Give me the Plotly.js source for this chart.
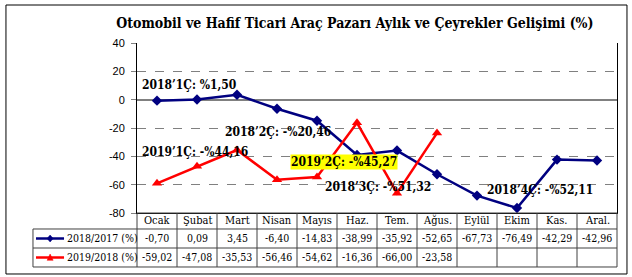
<!DOCTYPE html>
<html><head><meta charset="utf-8">
<script src="https://cdn.plot.ly/plotly-3.0.1.min.js"></script>
<style>body{margin:0;background:#fff}</style>
</head><body><div id="chart" style="width:632px;height:277px"></div>
<script>
const months = ['Ocak','Şubat','Mart','Nisan','Mayıs','Haz.','Tem.','Ağus.','Eylül','Ekim','Kas.','Aral.'];
const series2018 = [-0.70,0.09,3.45,-6.40,-14.83,-38.99,-35.92,-52.65,-67.73,-76.49,-42.29,-42.96];
const series2019 = [-59.02,-47.08,-35.53,-56.46,-54.62,-16.36,-66.00,-23.58,null,null,null,null];
const seriesNames = ['2018/2017 (%)','2019/2018 (%)'];
const quarterLabels = ["2018’1Ç: %1,50","2018’2Ç: -%20,46","2019’1Ç: -%44,16","2019’2Ç: -%45,27","2018’3Ç: -%51,32","2018’4Ç: -%52,11"];
const yTicks = [40,20,0,-20,-40,-60,-80];
const titleText = 'Otomobil ve Hafif Ticari Araç Pazarı Aylık ve Çeyrekler Gelişimi (%)';

const colors = ['#000080','#FF0000'];
const symbols = ['diamond','triangle-up'];
const allSeries = [series2018, series2019];
const fmt = v => (v === null ? '' : v.toFixed(2).replace('.', ','));

const traces = allSeries.map((s, i) => ({
  type: 'scatter', mode: 'lines+markers', x: months, y: s, name: seriesNames[i],
  line: {color: colors[i], width: 2.5},
  marker: {color: colors[i], symbol: symbols[i], size: i === 0 ? 8 : 9},
  connectgaps: false, cliponaxis: false, showlegend: false
}));

const serif = 'DejaVu Serif Condensed';
const annotations = [];
const qPos = [[0.8,10.6],[3.03,-22.8],[0.95,-36.9],[4.68,-44],[5.53,-61.6],[9.58,-63.7]];
quarterLabels.forEach((t, i) => {
  annotations.push({
    text: t, x: qPos[i][0], y: qPos[i][1], xref: 'x', yref: 'y', showarrow: false,
    font: {family: serif, size: 12, color: '#000', weight: 'bold'},
    bgcolor: i === 3 ? '#FFFF00' : 'rgba(0,0,0,0)', borderpad: 0
  });
});

const rowY = [0, -0.0941, -0.2059, -0.3176];
const legL = -0.2167;
const shapes = [];
const lineStyle = {color: '#404040', width: 1};
months.forEach((m, i) => {
  annotations.push({text: m, x: i, y: (rowY[0]+rowY[1])/2, xref: 'x', yref: 'paper', showarrow: false,
    font: {family: serif, size: 11, color: '#000'}, yanchor: 'middle'});
});
allSeries.forEach((s, r) => {
  const yc = (rowY[r+1] + rowY[r+2]) / 2;
  s.forEach((v, i) => {
    if (v === null) return;
    annotations.push({text: fmt(v), x: i, y: yc, xref: 'x', yref: 'paper', showarrow: false,
      font: {family: serif, size: 10.5, color: '#000'}, yanchor: 'middle'});
  });
  annotations.push({text: seriesNames[r], x: -0.149, y: yc, xref: 'paper', yref: 'paper', showarrow: false,
    xanchor: 'left', yanchor: 'middle', font: {family: serif, size: 10.5, color: '#000'}});
  shapes.push({type: 'line', xref: 'paper', yref: 'paper', x0: -0.2104, x1: -0.152, y0: yc, y1: yc,
    line: {color: colors[r], width: 2.5}});
  const cx = -0.181, dx = 3/480, dy = 3.5/170;
  const path = r === 0
    ? `M ${cx-dx} ${yc} L ${cx} ${yc+dy} L ${cx+dx} ${yc} L ${cx} ${yc-dy} Z`
    : `M ${cx-dx} ${yc-dy*0.8} L ${cx} ${yc+dy} L ${cx+dx} ${yc-dy*0.8} Z`;
  shapes.push({type: 'path', xref: 'paper', yref: 'paper', path: path, fillcolor: colors[r], line: {color: colors[r], width: 0.5}});
});
shapes.push({type:'line', xref:'paper', yref:'paper', x0:0, x1:1, y0:rowY[0], y1:rowY[0], line:lineStyle});
for (let k = 1; k < 4; k++) {
  shapes.push({type:'line', xref:'paper', yref:'paper', x0:legL, x1:1, y0:rowY[k], y1:rowY[k], line:lineStyle});
}
for (let k = 0; k <= 12; k++) {
  shapes.push({type:'line', xref:'paper', yref:'paper', x0:k/12, x1:k/12, y0:rowY[0], y1:rowY[3], line:lineStyle});
}
shapes.push({type:'line', xref:'paper', yref:'paper', x0:legL, x1:legL, y0:rowY[1], y1:rowY[3], line:lineStyle});
shapes.push({type:'rect', xref:'paper', yref:'paper', x0:-0.273, x1:1.0208, y0:-0.3588, y1:1.2235,
  line:{color:'#000', width:1}, fillcolor:'rgba(0,0,0,0)'});

const layout = {
  width: 632, height: 277,
  margin: {l: 137, r: 15, t: 43, b: 64},
  paper_bgcolor: '#fff', plot_bgcolor: '#fff',
  title: {text: titleText, x: 0.454, xref: 'paper', xanchor: 'center', y: 0.917, yref: 'container', yanchor: 'middle',
    font: {family: serif, size: 14, color: '#000', weight: 'bold'}},
  xaxis: {type: 'category', range: [-0.5, 11.5], showticklabels: false, showgrid: false, zeroline: false,
    showline: true, linecolor: '#000', linewidth: 1, ticks: '', fixedrange: true},
  yaxis: {range: [-80, 40], tickvals: yTicks, ticktext: yTicks.map(String), showgrid: true,
    gridcolor: '#808080', griddash: 'dash', gridwidth: 1,
    zeroline: true, zerolinecolor: '#808080', zerolinewidth: 2,
    showline: true, mirror: true, linecolor: '#000', linewidth: 1,
    ticks: 'outside', ticklen: 5, tickcolor: '#808080', ticklabelstandoff: 4,
    tickfont: {family: 'Liberation Sans', size: 11, color: '#000'}},
  annotations: annotations,
  shapes: shapes,
  showlegend: false
};
Plotly.newPlot('chart', traces, layout, {displayModeBar: false, staticPlot: true});
</script>
</body></html>
